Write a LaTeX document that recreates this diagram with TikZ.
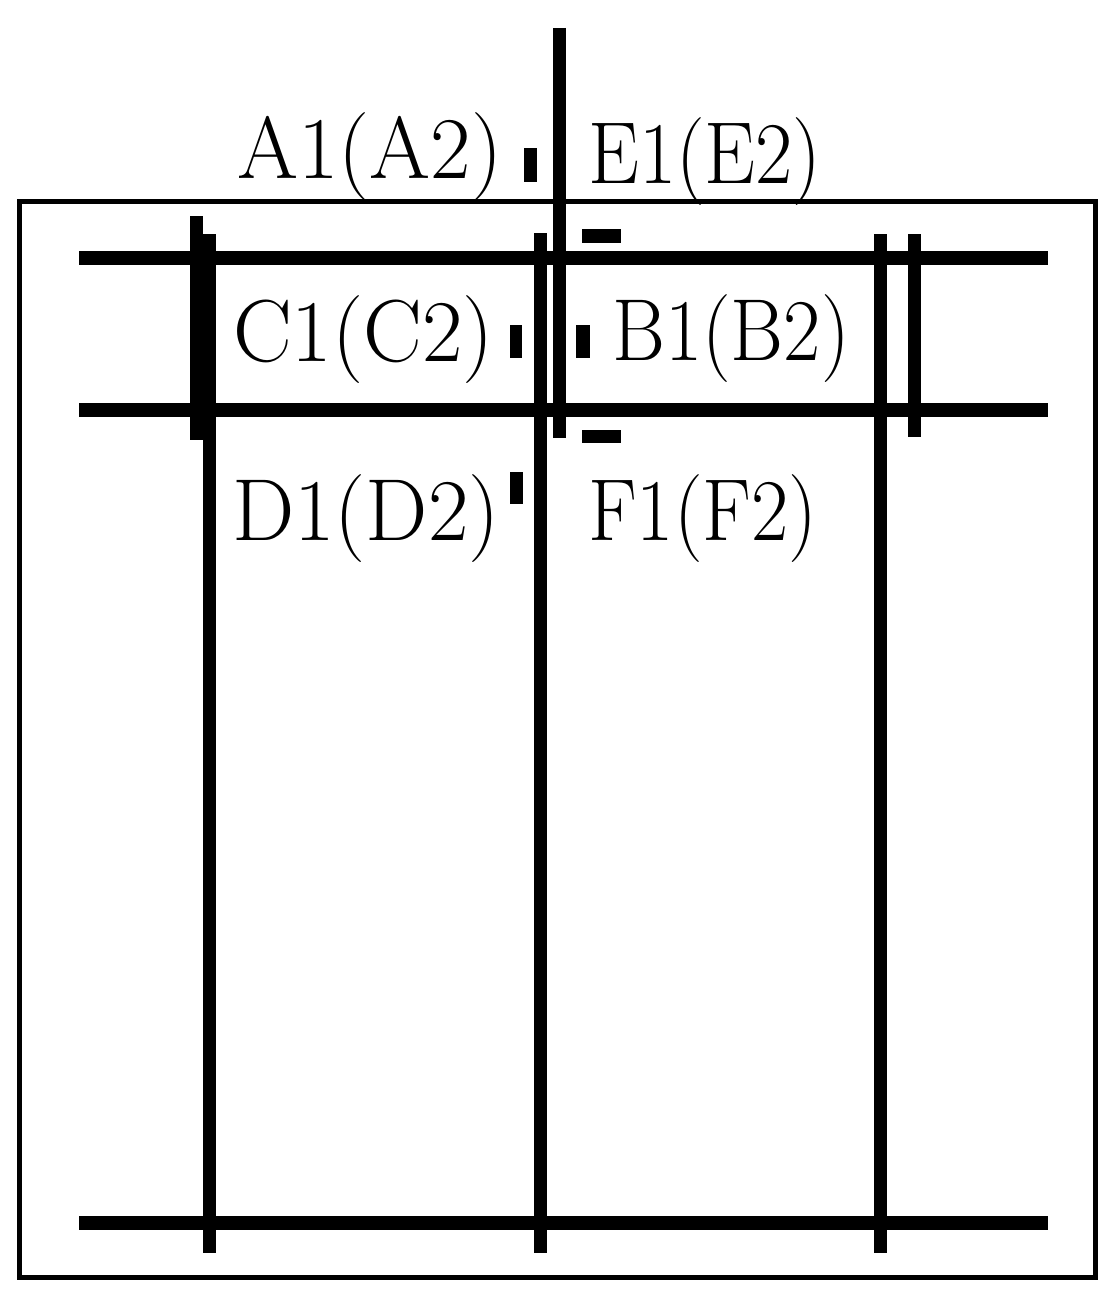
\documentclass[tikz,border=0pt]{standalone}
\begin{document}
\begin{tikzpicture}[x=1pt,y=-1pt,
  frame/.style={draw=black,line width=5pt},
  rail/.style={draw=black,line width=14pt},
  post/.style={draw=black,line width=13pt},
  tick/.style={fill=black},
  lab/.style={anchor=base west,inner sep=0pt,font=\fontsize{88}{92}\selectfont},
  rlab/.style={lab,xscale=0.92}]
\useasboundingbox (0,0) rectangle (1118,1295);
% outer frame
\draw[frame] (19.5,201) rectangle (1095,1277);
% horizontal rails
\draw[rail] (79,258) -- (1048,258);
\draw[rail] (79,410) -- (1048,410);
\draw[rail] (79,1223) -- (1048,1223);
% vertical posts
\draw[post] (196,216) -- (196,440);
\draw[post] (209,234) -- (209,1253);
\draw[post] (540,233) -- (540,1253);
\draw[post] (559,28) -- (559,438);
\draw[post] (880,234) -- (880,1253);
\draw[post] (914,234) -- (914,437);
% small marks
\fill[tick] (524,148) rectangle (537,182);
\fill[tick] (582,229) rectangle (621,243);
\fill[tick] (582,430) rectangle (621,443);
\fill[tick] (510,325) rectangle (522,358);
\fill[tick] (576,325) rectangle (590,358);
\fill[tick] (510,472) rectangle (523,504);
% labels
\node[lab] (A) at (237,178) {A1(A2)};
\node[rlab] (E) at (588,183) {E1(E2)};
\node[lab] (C) at (233,361) {C1(C2)};
\node[rlab] (B) at (612,360) {B1(B2)};
\node[lab] (D) at (232,540) {D1(D2)};
\node[rlab] (F) at (588,540) {F1(F2)};
\end{tikzpicture}
\end{document}
